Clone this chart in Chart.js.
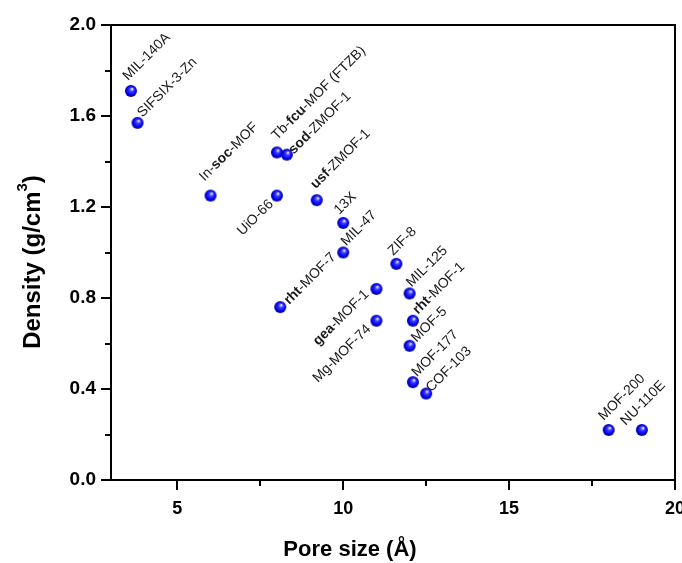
<!DOCTYPE html>
<html>
<head>
<meta charset="utf-8">
<script src="https://cdn.jsdelivr.net/npm/chart.js@4.4.1/dist/chart.umd.min.js"></script>
<style>
  html, body { margin: 0; padding: 0; background: #fff; overflow: hidden; }
  #wrap { width: 682px; height: 563px; position: relative; }
</style>
</head>
<body>
<div id="wrap"><canvas id="myChart"></canvas></div>
<script>
let poreSize = [3.6, 3.8, 6.0, 8.0, 8.3, 8.0, 9.2, 8.1, 10.0, 10.0, 11.6, 11.0, 12.0, 11.0, 12.1, 12.0, 12.1, 12.5, 18.0, 19.0];
let density = [1.71, 1.57, 1.25, 1.44, 1.43, 1.25, 1.23, 0.76, 1.13, 1.00, 0.95, 0.84, 0.82, 0.70, 0.70, 0.59, 0.43, 0.38, 0.22, 0.22];
// text between * is bold
let names = ['MIL-140A', 'SIFSIX-3-Zn', 'In-*soc*-MOF', 'Tb-*fcu*-MOF (FTZB)', '*sod*-ZMOF-1', 'UiO-66', '*usf*-ZMOF-1',
  '*rht*-MOF-7', '13X', 'MIL-47', 'ZIF-8', '*gea*-MOF-1', 'MIL-125', 'Mg-MOF-74', '*rht*-MOF-1', 'MOF-5', 'MOF-177',
  'COF-103', 'MOF-200', 'NU-110E'];
let xTicks = [5, 10, 15, 20];
let xMinor = [7.5, 12.5, 17.5];
let yTicks = [0, 0.4, 0.8, 1.2, 1.6, 2.0];
let yMinor = [0.2, 0.6, 1.0, 1.4, 1.8];

// where each label starts, offset from the point in px ('r' = label ends there)
let labelPos = [[-3, -10], [5, -5], [-6, -14], [0, -12], [7, 0], [-3, 9, 'r'], [-1, -11], [9, -2], [-4, -8], [3, -6],
  [-3, -8], [-7, 6, 'r'], [2, -6], [-5, 9, 'r'], [5, -6], [7, -3], [4, -5], [5, -1], [-5, -9], [-16, -4]];

let FAM = '"Liberation Sans", Arial, sans-serif';

function drawRuns(ctx, runs, align) {
  let total = 0;
  runs.forEach(r => { ctx.font = r.font; r.w = ctx.measureText(r.t).width; total += r.w; });
  let x = align === 'right' ? -total : (align === 'center' ? -total / 2 : 0);
  ctx.textAlign = 'left';
  runs.forEach(r => {
    ctx.font = r.font;
    ctx.fillText(r.t, x, r.rise || 0);
    x += r.w;
  });
}

function makeBall(r) {
  let c = document.createElement('canvas');
  c.width = c.height = r * 2 + 2;
  let g = c.getContext('2d');
  let m = r + 1;
  let grad = g.createRadialGradient(m + r * 0.2, m - r * 0.35, 0.5, m, m, r);
  grad.addColorStop(0, '#dcdcff');
  grad.addColorStop(0.3, '#3c3cff');
  grad.addColorStop(0.75, '#0000ee');
  grad.addColorStop(1, '#00008c');
  g.fillStyle = grad;
  g.beginPath();
  g.arc(m, m, r, 0, Math.PI * 2);
  g.fill();
  return c;
}

let extras = {
  id: 'extras',
  afterDatasetsDraw(chart) {
    let ctx = chart.ctx;
    let pts = chart.getDatasetMeta(0).data;
    ctx.save();
    ctx.fillStyle = '#1a1a1a';
    ctx.textBaseline = 'alphabetic';
    pts.forEach((p, i) => {
      let runs = names[i].split('*').map((t, k) => ({ t: t, font: (k % 2 ? 'bold ' : '') + '14px ' + FAM }))
        .filter(r => r.t.length);
      let pos = labelPos[i];
      ctx.save();
      ctx.translate(p.x + pos[0], p.y + pos[1]);
      ctx.rotate(-Math.PI / 4);
      drawRuns(ctx, runs, pos[2] === 'r' ? 'right' : 'left');
      ctx.restore();
    });
    ctx.restore();
  },
  afterDraw(chart) {
    let ctx = chart.ctx;
    let a = chart.chartArea;
    let sx = chart.scales.x, sy = chart.scales.y;
    ctx.save();
    ctx.strokeStyle = '#000';
    ctx.lineWidth = 2;
    ctx.beginPath();
    ctx.moveTo(a.left, a.top);
    ctx.lineTo(a.right, a.top);
    ctx.lineTo(a.right, a.bottom);
    xMinor.forEach(v => {
      let px = Math.round(sx.getPixelForValue(v));
      ctx.moveTo(px, a.bottom);
      ctx.lineTo(px, a.bottom + 6);
    });
    yMinor.forEach(v => {
      let py = Math.round(sy.getPixelForValue(v));
      ctx.moveTo(a.left, py);
      ctx.lineTo(a.left - 6, py);
    });
    ctx.stroke();

    ctx.fillStyle = '#000';
    ctx.textBaseline = 'middle';
    ctx.save();
    ctx.translate(350, 550);
    drawRuns(ctx, [{ t: 'Pore size (Å)', font: 'bold 22px ' + FAM }], 'center');
    ctx.restore();
    ctx.save();
    ctx.translate(33, 262);
    ctx.rotate(-Math.PI / 2);
    drawRuns(ctx, [
      { t: 'Density (g/cm', font: 'bold 24px ' + FAM },
      { t: '3', font: 'bold 15px ' + FAM, rise: -10 },
      { t: ')', font: 'bold 24px ' + FAM }
    ], 'center');
    ctx.restore();
    ctx.restore();
  }
};

let ctx = document.getElementById('myChart').getContext('2d');
let myChart = new Chart(ctx, {
  type: 'scatter',
  data: {
    datasets: [{
      data: poreSize.map((x, i) => ({ x: x, y: density[i] })),
      pointStyle: makeBall(6),
      pointRadius: 6
    }]
  },
  options: {
    responsive: true,
    maintainAspectRatio: false,
    animation: false,
    layout: { padding: { top: 25, right: 5, bottom: 0, left: 0 } },
    plugins: {
      legend: { display: false },
      tooltip: { enabled: false }
    },
    scales: {
      x: {
        type: 'linear',
        min: 3,
        max: 20,
        afterBuildTicks: (s) => { s.ticks = xTicks.map(v => ({ value: v })); },
        afterFit: (s) => { s.height = 83; s.paddingLeft = 0; s.paddingRight = 0; },
        grid: { drawOnChartArea: false, tickLength: 10, color: '#000', lineWidth: 2 },
        border: { color: '#000', width: 2 },
        ticks: { color: '#000', font: { family: FAM, size: 18, weight: 'bold' }, padding: 8, maxRotation: 0 }
      },
      y: {
        min: 0,
        max: 2,
        afterBuildTicks: (s) => { s.ticks = yTicks.map(v => ({ value: v })); },
        afterFit: (s) => { s.width = 111; s.paddingTop = 0; s.paddingBottom = 0; },
        grid: { drawOnChartArea: false, tickLength: 10, color: '#000', lineWidth: 2 },
        border: { color: '#000', width: 2 },
        ticks: {
          color: '#000',
          font: { family: FAM, size: 19, weight: 'bold' },
          padding: 5,
          callback: (v) => Number(v).toFixed(1)
        }
      }
    }
  },
  plugins: [extras]
});
</script>
</body>
</html>
